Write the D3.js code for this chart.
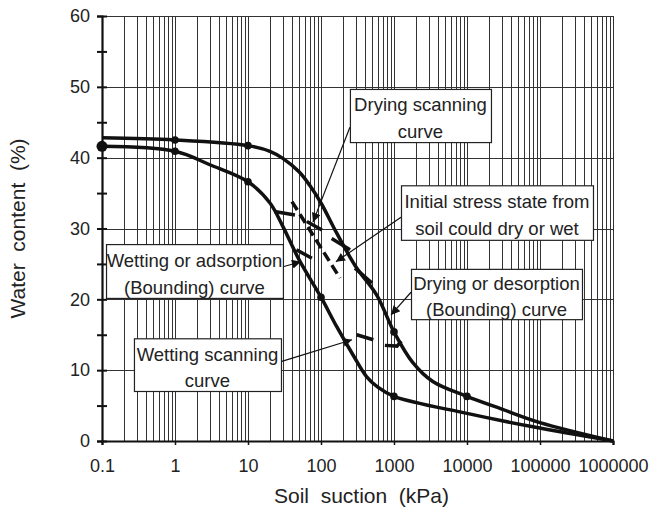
<!DOCTYPE html>
<html lang="en">
<head>
<meta charset="UTF-8">
<script src="https://d3js.org/d3.v7.min.js"></script>
<style>
  body { margin: 0; background: #fff; }
  svg { display: block; font-family: "Liberation Sans", Arial, sans-serif; }
  .grid line { stroke: #333; stroke-width: 1.1; shape-rendering: crispEdges; }
</style>
</head>
<body>
<div id="chart"></div>
<script>
// soil water characteristic curves
const xTicks = [0.1, 1, 10, 100, 1000, 10000, 100000, 1000000];
const xTickLabels = ["0.1", "1", "10", "100", "1000", "10000", "100000", "1000000"];
const yTicks = [0, 10, 20, 30, 40, 50, 60];

// drying (desorption) bounding curve
const dryingSuction = [0.1, 1, 10, 20, 30, 50, 70, 100, 165, 300, 580, 1000, 1800, 3400, 10000, 30000, 100000, 1000000];
const dryingWater   = [42.8, 42.5, 41.7, 40.9, 39.9, 38.0, 36.1, 33.6, 29.3, 24.6, 20.6, 15.4, 11.1, 8.4, 6.3, 4.5, 2.6, 0];
const dryingMarkers = [1, 10, 1000, 10000];

// wetting (adsorption) bounding curve
const wettingSuction = [0.1, 1, 3, 10, 20, 30, 50, 100, 165, 280, 420, 600, 1000, 10000, 80000, 1000000];
const wettingWater   = [41.6, 40.9, 39.0, 36.6, 33.6, 30.3, 25.6, 20.3, 16.1, 12.0, 9.1, 7.6, 6.3, 3.9, 2.0, 0];
const wettingMarkers = [0.1, 1, 10, 100, 1000];

// scanning curve pieces, [suction, water]
const scanDashed = [[40, 33.8], [182, 23.0]];
const scanPieces = [
  [[23, 32.4], [44, 31.9]],
  [[64, 31.0], [103, 29.8]],
  [[140, 28.6], [250, 27.0]],
  [[292, 24.4], [500, 22.3]],
  [[46, 27.0], [75, 25.8]],
  [[308, 15.0], [521, 14.3]],
  [[750, 13.5], [1100, 13.4], [1260, 14.1]]
];

// text boxes: lines, [left suction, top water], [right suction, bottom water]
const notes = [
  { lines: ["Drying scanning", "curve"], tl: [249, 49.7], br: [21300, 42.2] },
  { lines: ["Initial stress state from", "soil could dry or wet"], tl: [1247, 36.1], br: [532000, 28.4] },
  { lines: ["Wetting or adsorption", "(Bounding) curve"], tl: [0.1135, 27.8], br: [30.1, 20.2] },
  { lines: ["Wetting scanning", "curve"], tl: [0.274, 14.5], br: [28.3, 7.06] },
  { lines: ["Drying or desorption", "(Bounding) curve"], tl: [1710, 24.3], br: [376000, 17.2] }
];
// arrows: from [suction, water] to [suction, water]
const arrows = [
  [[249, 44.3], [77.6, 30.9]],
  [[1247, 31.6], [160, 25.3]],
  [[30.1, 24.6], [53.2, 25.3]],
  [[28.3, 11.2], [266, 14.3]],
  [[1710, 21.0], [910, 17.8]]
];

const width = 664, height = 507;
const svg = d3.select("#chart").append("svg")
  .attr("width", width)
  .attr("height", height);

const x = d3.scaleLog().domain([0.1, 1000000]).range([102, 613]);
const y = d3.scaleLinear().domain([0, 60]).range([441, 16]);

svg.append("defs").append("marker")
  .attr("id", "head")
  .attr("viewBox", "0 0 10 10")
  .attr("refX", 10).attr("refY", 5)
  .attr("markerWidth", 11).attr("markerHeight", 9)
  .attr("markerUnits", "userSpaceOnUse")
  .attr("orient", "auto")
  .append("path")
  .attr("d", "M0,0L10,5L0,10z")
  .attr("fill", "#111");

// grid
const minor = [];
for (let k = -1; k <= 5; k++) {
  for (let n = 1; n <= 9; n++) minor.push(+(n * Math.pow(10, k)).toPrecision(3));
}
minor.push(1000000);

const grid = svg.append("g").attr("class", "grid");
grid.selectAll(".v").data(minor).enter().append("line")
  .attr("x1", d => Math.round(x(d)) + 0.5).attr("x2", d => Math.round(x(d)) + 0.5)
  .attr("y1", y(0)).attr("y2", y(60));
grid.selectAll(".h").data(yTicks.slice(1)).enter().append("line")
  .attr("x1", x(0.1)).attr("x2", x(1000000))
  .attr("y1", d => Math.round(y(d)) + 0.5).attr("y2", d => Math.round(y(d)) + 0.5);

// axes
const xAxis = svg.append("g")
  .attr("transform", `translate(0,${y(0)})`)
  .call(d3.axisBottom(x).tickValues(xTicks).tickFormat((d, i) => xTickLabels[i]).tickSize(4).tickPadding(14));
xAxis.select(".domain").attr("stroke", "#111").attr("stroke-width", 2.2);
xAxis.selectAll("text").attr("font-size", 18).attr("fill", "#222").attr("font-family", "Liberation Sans, Arial, sans-serif");
xAxis.selectAll(".tick line").attr("stroke", "#111").attr("stroke-width", 1.5);

const yAxis = svg.append("g")
  .attr("transform", `translate(${x(0.1)},0)`)
  .call(d3.axisLeft(y).tickValues(d3.range(0, 61, 5)).tickFormat(d => d % 10 === 0 ? d : "").tickSize(5).tickPadding(7));
yAxis.select(".domain").attr("stroke", "#111").attr("stroke-width", 2.2);
yAxis.selectAll(".tick line").attr("x1", 5).attr("stroke", "#111").attr("stroke-width", 2);
yAxis.selectAll("text").attr("font-size", 18).attr("fill", "#222").attr("font-family", "Liberation Sans, Arial, sans-serif");

// axis titles
svg.append("text")
  .attr("x", (x(0.1) + x(1000000)) / 2 + 4).attr("y", 503)
  .attr("text-anchor", "middle").attr("font-size", 21).attr("fill", "#222")
  .attr("xml:space", "preserve").style("white-space", "pre")
  .text("Soil  suction  (kPa)");
svg.append("text")
  .attr("transform", `translate(25,${(y(0) + y(60)) / 2}) rotate(-90)`)
  .attr("text-anchor", "middle").attr("font-size", 21).attr("fill", "#222")
  .attr("xml:space", "preserve").style("white-space", "pre")
  .text("Water  content  (%)");

// curves
const line = d3.line().x(d => x(d[0])).y(d => y(d[1])).curve(d3.curveCatmullRom.alpha(0.5));
const drying = dryingSuction.map((s, i) => [s, dryingWater[i]]);
const wetting = wettingSuction.map((s, i) => [s, wettingWater[i]]);

[drying, wetting].forEach(c => {
  svg.append("path").datum(c).attr("d", line)
    .attr("fill", "none").attr("stroke", "#111").attr("stroke-width", 3.5)
    .attr("stroke-linejoin", "round");
});

svg.selectAll(".dmark").data(drying.filter(d => dryingMarkers.includes(d[0]))).enter().append("circle")
  .attr("cx", d => x(d[0])).attr("cy", d => y(d[1])).attr("r", 3.8).attr("fill", "#111");
svg.selectAll(".wmark").data(wetting.filter(d => wettingMarkers.includes(d[0]))).enter().append("circle")
  .attr("cx", d => x(d[0])).attr("cy", d => y(d[1])).attr("r", d => d[0] === 0.1 ? 5.5 : 3.8).attr("fill", "#111");

// scanning curves
const seg = d3.line().x(d => x(d[0])).y(d => y(d[1]));
svg.append("path").datum(scanDashed).attr("d", seg)
  .attr("fill", "none").attr("stroke", "#111").attr("stroke-width", 3.5)
  .attr("stroke-dasharray", "10,5");
svg.selectAll(".scan").data(scanPieces).enter().append("path")
  .attr("d", seg).attr("fill", "none").attr("stroke", "#111").attr("stroke-width", 3.5)
  .attr("stroke-linecap", "butt");

// arrows
svg.selectAll(".arrow").data(arrows).enter().append("path")
  .attr("d", seg).attr("fill", "none").attr("stroke", "#111").attr("stroke-width", 1.2)
  .attr("marker-end", "url(#head)");

// text boxes
const box = svg.selectAll(".note").data(notes).enter().append("g");
box.append("rect")
  .attr("x", d => x(d.tl[0]) + 0.5).attr("y", d => y(d.tl[1]) + 0.5)
  .attr("width", d => x(d.br[0]) - x(d.tl[0])).attr("height", d => y(d.br[1]) - y(d.tl[1]))
  .attr("fill", "#fff").attr("stroke", "#222").attr("stroke-width", 1.2);
box.each(function (d) {
  const g = d3.select(this);
  const cx = (x(d.tl[0]) + x(d.br[0])) / 2;
  const top = y(d.tl[1]), h = y(d.br[1]) - y(d.tl[1]);
  d.lines.forEach((t, i) => {
    g.append("text")
      .attr("x", cx).attr("y", top + h * (i === 0 ? 0.3 : 0.8))
      .attr("dy", "0.35em")
      .attr("text-anchor", "middle").attr("font-size", 18.5).attr("fill", "#222")
      .text(t);
  });
});
</script>
</body>
</html>
